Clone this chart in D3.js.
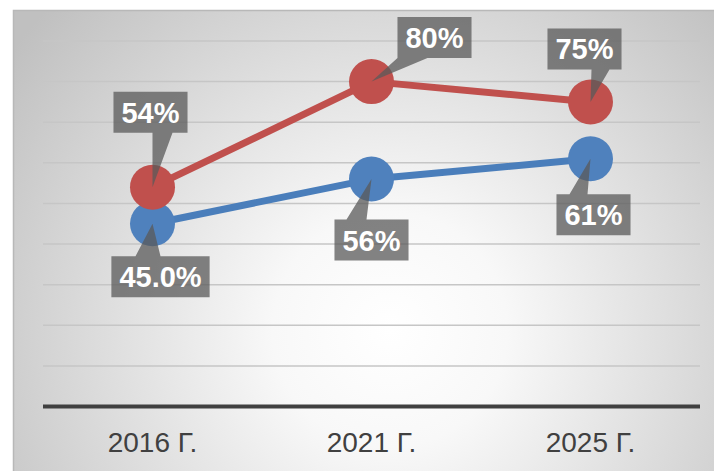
<!DOCTYPE html>
<html>
<head>
<meta charset="utf-8">
<script src="https://cdn.jsdelivr.net/npm/d3@7"></script>
<style>
  body { margin: 0; background: #fff; }
  svg { display: block; }
</style>
</head>
<body>
<div id="chart"></div>
<script>
// chart data
const years = ['2016 Г.', '2021 Г.', '2025 Г.'];
const blueValues = [0.45, 0.56, 0.61];
const redValues = [0.54, 0.80, 0.75];
const blueLabels = ['45.0%', '56%', '61%'];
const redLabels = ['54%', '80%', '75%'];
const gridTicks = [0, 0.1, 0.2, 0.3, 0.4, 0.5, 0.6, 0.7, 0.8, 0.9];

const width = 714, height = 471;

const svg = d3.select('#chart').append('svg')
    .attr('width', width)
    .attr('height', height);

const defs = svg.append('defs');
const grad = defs.append('radialGradient')
    .attr('id', 'bg')
    .attr('gradientUnits', 'userSpaceOnUse')
    .attr('cx', 390).attr('cy', 330).attr('r', 470);
grad.append('stop').attr('offset', '0%').attr('stop-color', '#ffffff');
grad.append('stop').attr('offset', '25%').attr('stop-color', '#f8f8f8');
grad.append('stop').attr('offset', '100%').attr('stop-color', '#c0c0c0');

// chart area
svg.append('rect')
    .attr('x', 13.5).attr('y', 10.5)
    .attr('width', width).attr('height', height)
    .attr('fill', 'url(#bg)')
    .attr('stroke', '#b8b8b8')
    .attr('stroke-width', 1.5);

const x = d3.scaleBand().domain(years).range([43, 700]);
const y = d3.scaleLinear().domain([0, 0.9]).range([406.5, 41]);
const cx = d => x(d) + x.bandwidth() / 2;

// gridlines
svg.append('g')
    .selectAll('line')
    .data(gridTicks.filter(t => t > 0))
    .enter().append('line')
    .attr('x1', 43).attr('x2', 700)
    .attr('y1', d => y(d)).attr('y2', d => y(d))
    .attr('stroke', '#c6c6c6')
    .attr('stroke-width', 1.5);

// x axis
const xAxis = svg.append('g')
    .attr('transform', 'translate(0,' + y(0) + ')')
    .call(d3.axisBottom(x).tickSize(0).tickPadding(26));
xAxis.select('.domain')
    .attr('stroke', '#404040')
    .attr('stroke-width', 4)
    .attr('d', 'M43,0H700');
xAxis.selectAll('text')
    .attr('fill', '#404040')
    .style('font-family', 'Liberation Sans, Arial, sans-serif')
    .style('font-size', '28px');

const series = [
    { values: blueValues, labels: blueLabels, color: '#4a7ebb', marker: '#4f81bd' },
    { values: redValues, labels: redLabels, color: '#c0504d', marker: '#c0504d' }
];

const line = d3.line()
    .x((d, i) => cx(years[i]))
    .y(d => y(d));

series.forEach(s => {
    svg.append('path')
        .datum(s.values)
        .attr('d', line)
        .attr('fill', 'none')
        .attr('stroke', s.color)
        .attr('stroke-width', 7)
        .attr('stroke-linejoin', 'round');
    svg.append('g')
        .selectAll('circle')
        .data(s.values)
        .enter().append('circle')
        .attr('cx', (d, i) => cx(years[i]))
        .attr('cy', d => y(d))
        .attr('r', 22.5)
        .attr('fill', s.marker);
});

// callout labels: box offset from the point and pointer base along the box edge
const callouts = [
    { s: 0, i: 0, dx: 8, dy: 53, base: [-25, 0] },
    { s: 0, i: 1, dx: 0, dy: 61, base: [-25, -5] },
    { s: 0, i: 2, dx: 3, dy: 56, base: [-24, -6] },
    { s: 1, i: 0, dx: -2, dy: -75, base: [2, 22] },
    { s: 1, i: 1, dx: 63, dy: -44, base: [-37, -7], left: true },
    { s: 1, i: 2, dx: -6, dy: -53, base: [7, 25] }
];

const boxH = 41;
const lab = svg.append('g');
callouts.forEach(c => {
    const s = series[c.s];
    const px = cx(years[c.i]), py = y(s.values[c.i]);
    const bx = px + c.dx, by = py + c.dy;
    const txt = s.labels[c.i];
    const t = lab.append('text')
        .attr('x', bx).attr('y', by)
        .attr('text-anchor', 'middle')
        .attr('dy', '0.36em')
        .attr('fill', '#fff')
        .style('font-family', 'Liberation Sans, Arial, sans-serif')
        .style('font-weight', 'bold')
        .style('font-size', '29px')
        .text(txt);
    const w = t.node().getComputedTextLength() + 16;
    const top = by - boxH / 2, bottom = by + boxH / 2, left = bx - w / 2;
    const edgeY = c.dy < 0 ? bottom : top;
    let pts;
    if (c.left) {
        pts = [[left, bottom], [left + 30, bottom], [px, py], [left, bottom]];
    } else {
        pts = [[bx + c.base[0], edgeY], [bx + c.base[1], edgeY], [px, py]];
    }
    lab.insert('path', 'text')
        .attr('d', 'M' + [[left, top], [left + w, top], [left + w, bottom], [left, bottom]].join('L') + 'Z' +
            'M' + pts.join('L') + 'Z')
        .attr('fill', '#595959')
        .attr('fill-opacity', 0.75);
});
</script>
</body>
</html>
